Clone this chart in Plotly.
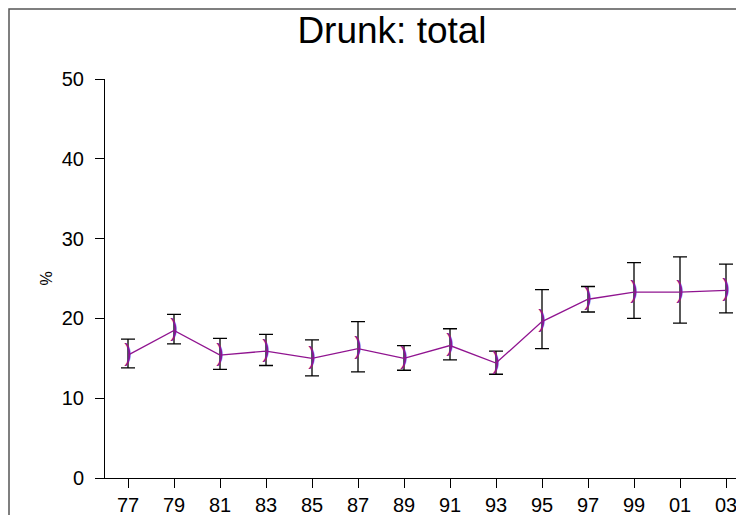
import plotly.graph_objects as go

# ---------------- Data ---------------- #
years = [1977, 1979, 1981, 1983, 1985, 1987, 1989, 1991, 1993, 1995, 1997, 1999, 2001, 2003]
tick_labels = ["77", "79", "81", "83", "85", "87", "89", "91", "93", "95", "97", "99", "01", "03"]
pct = [15.4, 18.5, 15.4, 15.9, 15.0, 16.2, 15.0, 16.6, 14.4, 19.6, 22.4, 23.3, 23.3, 23.5]
upper = [17.4, 20.5, 17.5, 18.0, 17.3, 19.6, 16.6, 18.7, 15.9, 23.6, 24.0, 27.0, 27.7, 26.8]
lower = [13.8, 16.8, 13.6, 14.1, 12.8, 13.3, 13.5, 14.8, 13.0, 16.2, 20.8, 20.0, 19.4, 20.7]

err_plus = [u - p for u, p in zip(upper, pct)]
err_minus = [p - l for p, l in zip(pct, lower)]

FONT = "Liberation Sans, Arial, sans-serif"
PURPLE = "#901490"

# page body has an 8px margin, so the figure starts 8px right/down
OFF = 8
FIG_W, FIG_H = 744 - 2 * OFF, 515 - OFF
PLOT_L, PLOT_R, PLOT_T, PLOT_B = 105, 736, 79, 478   # wanted screen positions
pw = PLOT_R - PLOT_L
ph = PLOT_B - PLOT_T

# ---------------- Figure ---------------- #
fig = go.Figure()

fig.add_trace(go.Scatter(
    x=years,
    y=pct,
    mode="lines+text",
    text=[")"] * len(years),
    textposition="middle center",
    textfont=dict(family=FONT, size=23, color=PURPLE),
    line=dict(color=PURPLE, width=1.3),
    error_y=dict(type="data", symmetric=False, array=err_plus, arrayminus=err_minus,
                 color="black", thickness=1.3, width=7),
    showlegend=False,
))

# figure frame (only top and left edges fall inside the window)
fig.add_shape(type="rect", xref="paper", yref="paper",
              x0=(OFF + 1 - PLOT_L) / pw, x1=1.2, y0=-0.3, y1=(PLOT_B - OFF - 1) / ph,
              line=dict(color="#555555", width=1.5), layer="below")

fig.update_layout(
    width=FIG_W, height=FIG_H,
    margin=dict(l=PLOT_L - OFF, r=OFF + FIG_W - PLOT_R, t=PLOT_T - OFF, b=OFF + FIG_H - PLOT_B,
                autoexpand=False),
    paper_bgcolor="white", plot_bgcolor="white",
    font=dict(family=FONT, color="black"),
    title=dict(text="Drunk: total", font=dict(family=FONT, size=37, color="black"),
               x=(392 - PLOT_L) / pw, xref="paper", xanchor="center",
               y=1 - (30 - OFF) / FIG_H, yref="container", yanchor="middle"),
)

fig.update_xaxes(
    range=[1976, 1977 + (PLOT_R - 128) / 23],
    tickmode="array", tickvals=years, ticktext=tick_labels,
    ticks="outside", ticklen=9, tickwidth=1, tickcolor="black",
    tickfont=dict(family=FONT, size=20, color="black"),
    ticklabeloverflow="allow", automargin=False,
    showline=True, linecolor="black", linewidth=1,
    showgrid=False, zeroline=False,
)

fig.update_yaxes(
    range=[0, 50],
    tickmode="array", tickvals=[0, 10, 20, 30, 40, 50],
    ticks="outside", ticklen=9, tickwidth=1, tickcolor="black",
    tickfont=dict(family=FONT, size=20, color="black"),
    ticklabelstandoff=7, automargin=False,
    showline=True, linecolor="black", linewidth=1,
    showgrid=False, zeroline=False,
    title=dict(text="%", font=dict(family=FONT, size=16, color="black"), standoff=5),
)

fig.write_html("out.html")
